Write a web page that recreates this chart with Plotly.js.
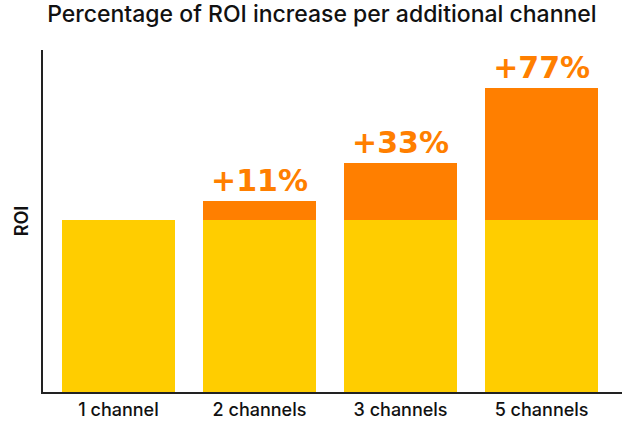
<!DOCTYPE html>
<html><head><meta charset="utf-8">
<script src="https://cdn.plot.ly/plotly-3.0.1.min.js"></script>
<style>html,body{margin:0;padding:0;background:#fff}#chart{width:640px;height:424px}</style>
</head><body><div id="chart"></div>
<script>
const categories = ['1 channel', '2 channels', '3 channels', '5 channels'];
const baseROI = [1, 1, 1, 1];
const extraROI = [0, 0.11, 0.33, 0.77];
const labels = ['', '+11%', '+33%', '+77%'];

const traces = [
  {type: 'bar', x: categories, y: baseROI, marker: {color: '#FFCD00'}, hoverinfo: 'skip', width: 0.8},
  {type: 'bar', x: categories, y: extraROI, marker: {color: '#FF7F00'}, width: 0.8,
   text: labels, textposition: 'outside', cliponaxis: false,
   textfont: {family: 'DejaVu Sans', size: 30, weight: 'bold', color: '#FF7F00'}}
];
const layout = {
  width: 640, height: 424,
  barmode: 'stack',
  showlegend: false,
  margin: {l: 43, r: 18, t: 50, b: 32},
  paper_bgcolor: '#fff', plot_bgcolor: '#fff',
  title: {text: 'Percentage of ROI increase per additional channel', x: 0.503, xanchor: 'center', y: 0.985, yanchor: 'top',
          font: {family: 'Inter', size: 23, weight: 500, color: '#111'}},
  xaxis: {range: [-0.535, 3.57], showline: true, linecolor: '#222', linewidth: 2, ticks: '', showgrid: false,
          tickfont: {family: 'Inter', size: 18, weight: 500, color: '#111'}},
  yaxis: {range: [0, 1.99], showline: true, linecolor: '#222', linewidth: 2, showticklabels: false, ticks: '', showgrid: false, zeroline: false,
          title: {text: 'ROI', font: {family: 'Inter', size: 18, weight: 600, color: '#111'}, standoff: 8}},
  uniformtext: {mode: false}
};
Plotly.newPlot('chart', traces, layout, {displayModeBar: false, staticPlot: true});
</script></body></html>
